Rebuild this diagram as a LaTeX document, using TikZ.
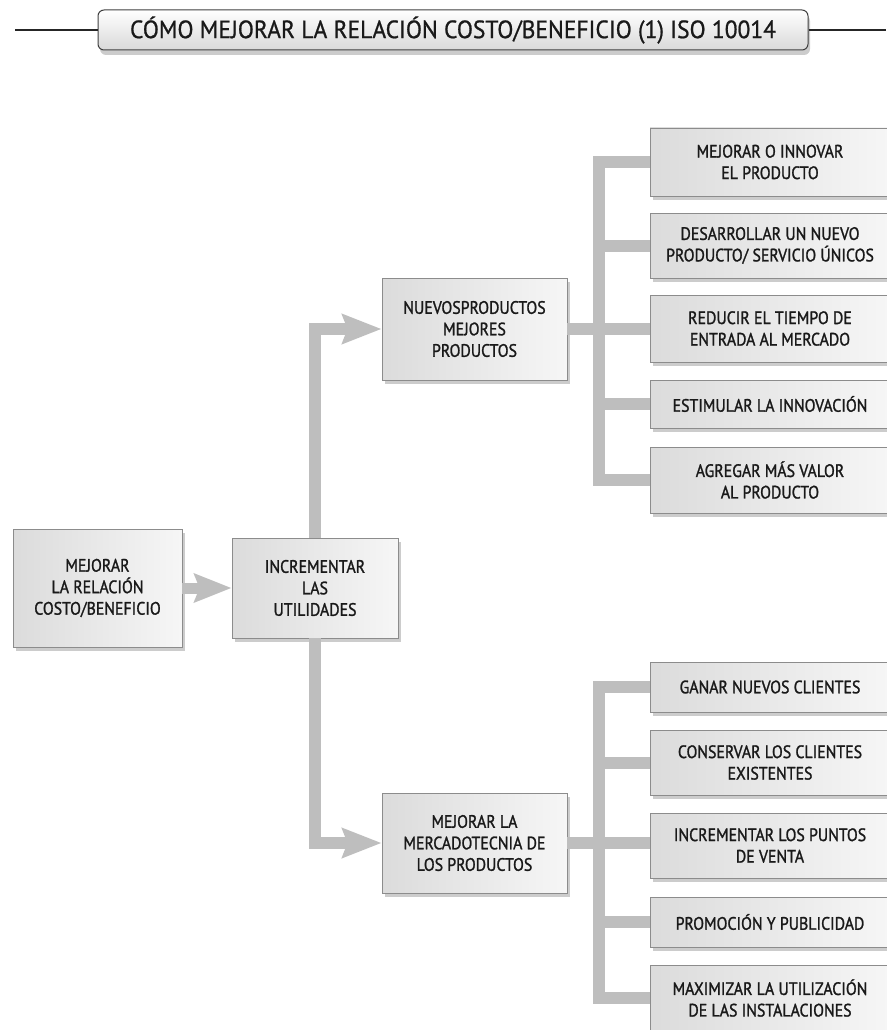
\documentclass[tikz,border=0pt]{standalone}
\usepackage{fontspec}
\setmainfont{PT Sans}
\newfontfamily\boxfont{PT Sans}[FakeStretch=0.88, FakeBold=1.3]
\newfontfamily\titlefont{PT Sans}[FakeStretch=0.94, FakeBold=0.8]
\usetikzlibrary{arrows.meta,shadows}
\definecolor{barcol}{RGB}{190,190,190}
\definecolor{boxline}{RGB}{140,140,140}
\definecolor{txtcol}{RGB}{25,25,25}
\tikzset{
  box/.style={draw=boxline, line width=0.8pt, left color=gray!28, right color=gray!7,
    text=txtcol, align=center, inner sep=0pt,
    font=\boxfont\fontsize{18}{21.5}\selectfont,
    drop shadow={shadow xshift=3pt, shadow yshift=-4pt, opacity=0.4, fill=gray}},
  rbox/.style={box, minimum width=240pt},
  bar/.style={draw=barcol, line width=12pt, line join=miter},
  bigarrow/.style={bar, -{Stealth[length=39pt,width=29pt,inset=5pt]}},
  titlebox/.style={draw=black!75, line width=1pt, rounded corners=6pt,
    top color=white, bottom color=gray!30, text=txtcol, inner sep=0pt,
    minimum width=710pt, minimum height=40pt,
    font=\titlefont\fontsize{25}{28}\selectfont,
    drop shadow={shadow xshift=2pt, shadow yshift=-5pt, opacity=0.4, fill=gray}},
  tline/.style={draw=black!85, line width=1.2pt}
}
\begin{document}
\begin{tikzpicture}[x=1pt,y=-1pt]
\useasboundingbox (0,0) rectangle (886,1030);
\fill[white] (0,0) rectangle (886,1030);

% title
\node[titlebox] (title) at (453,30) {CÓMO MEJORAR LA RELACIÓN COSTO/BENEFICIO (1) ISO 10014};
\coordinate (tl) at (15,30);
\coordinate (tr) at (886,30);
\draw[tline] (tl) -- (title.west);
\draw[tline] (title.east) -- (tr);

% main boxes
\node[box, minimum width=169pt, minimum height=118pt] (m1) at (97.5,588) {MEJORAR\\LA RELACIÓN\\COSTO/BENEFICIO};
\node[box, minimum width=166pt, minimum height=100pt] (inc) at (315,588) {INCREMENTAR\\LAS\\UTILIDADES};
\node[box, minimum width=185pt, minimum height=102pt] (nuevos) at (474.5,329) {NUEVOSPRODUCTOS\\MEJORES\\PRODUCTOS};
\node[box, minimum width=185pt, minimum height=100pt] (merc) at (474.5,843) {MEJORAR LA\\MERCADOTECNIA DE\\LOS PRODUCTOS};

% right boxes, upper
\node[rbox, minimum height=68pt] (r1) at (770,162) {MEJORAR O INNOVAR\\EL PRODUCTO};
\node[rbox, minimum height=65pt] (r2) at (770,245.5) {DESARROLLAR UN NUEVO\\PRODUCTO/ SERVICIO ÚNICOS};
\node[rbox, minimum height=67pt] (r3) at (770,328.5) {REDUCIR EL TIEMPO DE\\ENTRADA AL MERCADO};
\node[rbox, minimum height=48pt] (r4) at (770,404) {ESTIMULAR LA INNOVACIÓN};
\node[rbox, minimum height=66pt] (r5) at (770,480) {AGREGAR MÁS VALOR\\AL PRODUCTO};

% right boxes, lower
\node[rbox, minimum height=50pt] (r6) at (770,687) {GANAR NUEVOS CLIENTES};
\node[rbox, minimum height=65pt] (r7) at (770,762.5) {CONSERVAR LOS CLIENTES\\EXISTENTES};
\node[rbox, minimum height=65pt] (r8) at (770,845.5) {INCREMENTAR LOS PUNTOS\\DE VENTA};
\node[rbox, minimum height=50pt] (r9) at (770,922) {PROMOCIÓN Y PUBLICIDAD};
\node[rbox, minimum height=66pt] (r10) at (770,998) {MAXIMIZAR LA UTILIZACIÓN\\DE LAS INSTALACIONES};

% bus coordinate
\coordinate (bu) at (599,0);

% connectors
\draw[bar, -{Stealth[length=37pt,width=28pt,inset=5pt]}, line width=11pt] (m1.east) -- (inc.west);
\draw[bigarrow] (inc.north) |- (nuevos.west);
\draw[bigarrow] (inc.south) |- (merc.west);

\draw[bar] (r1.west) -- (r1.west -| bu) -- (r5.west -| bu) -- (r5.west);
\draw[bar] (r2.west -| bu) -- (r2.west);
\draw[bar] (r4.west -| bu) -- (r4.west);
\draw[bar] (nuevos.east) -- (nuevos.east -| r3.west);

\draw[bar] (r6.west) -- (r6.west -| bu) -- (r10.west -| bu) -- (r10.west);
\draw[bar] (r7.west -| bu) -- (r7.west);
\draw[bar] (r9.west -| bu) -- (r9.west);
\draw[bar] (merc.east) -- (merc.east -| r8.west);
\end{tikzpicture}
\end{document}
